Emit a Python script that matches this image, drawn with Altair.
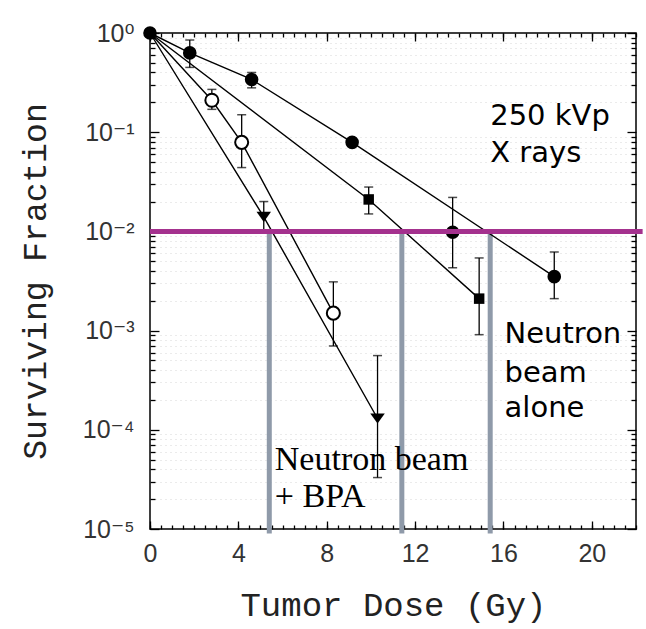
import altair as alt
import pandas as pd

# ---------------- data ----------------
# 250 kVp X rays (filled circles)
xr_dose = [0.0, 1.8, 4.6, 9.15, 13.7, 18.3]
xr_sf = [1.0, 0.63, 0.34, 0.079, 0.0098, 0.0035]
xr_lo = [None, 0.45, 0.28, None, 0.0043, 0.0021]
xr_hi = [None, 0.85, 0.40, None, 0.022, 0.0062]
xr_line_dose = [0.0, 1.8, 4.6, 9.15, 18.3]
xr_line_sf = [1.0, 0.63, 0.34, 0.079, 0.0035]

# Neutron beam alone (filled squares)
na_dose = [9.9, 14.9]
na_sf = [0.021, 0.0021]
na_lo = [0.015, 0.00091]
na_hi = [0.028, 0.0054]
na_line_dose = [0.0, 9.9, 14.9]
na_line_sf = [1.0, 0.021, 0.0021]

# Open circles
oc_dose = [2.8, 4.15, 8.3]
oc_sf = [0.21, 0.079, 0.0015]
oc_lo = [0.17, 0.044, 0.0007]
oc_hi = [0.27, 0.15, 0.0031]
oc_line_dose = [0.0, 2.8, 4.15, 8.3]
oc_line_sf = [1.0, 0.21, 0.079, 0.0015]

# Neutron beam + BPA (filled down triangles)
bpa_dose = [5.15, 10.3]
bpa_sf = [0.014, 0.00013]
bpa_lo = [0.0098, 0.000033]
bpa_hi = [0.020, 0.00056]
bpa_line_dose = [0.0, 5.15, 10.3]
bpa_line_sf = [1.0, 0.014, 0.00013]

# reference level and dose markers
level_sf = [0.01]
level_x1 = [0.0]
level_x2 = [22.3]
mark_dose = [5.4, 11.4, 15.4]
mark_top = [0.01, 0.01, 0.01]
mark_bottom = [9.0e-6, 9.0e-6, 9.0e-6]

# annotations
sans_text = ["250 kVp", "X rays", "Neutron", "beam", "alone"]
sans_x = [15.4, 15.4, 16.05, 16.05, 16.05]
sans_y = [0.118, 0.050, 7.5e-4, 3.0e-4, 1.35e-4]
serif_text = ["Neutron beam", "+ BPA"]
serif_x = [5.65, 5.65]
serif_y = [3.9e-5, 1.67e-5]

# axes
x_major = [0, 4, 8, 12, 16, 20]
x_minor = [i * 0.5 for i in range(0, 45)]
y_major = [1.0, 0.1, 0.01, 0.001, 0.0001, 0.00001]
y_minor = [m * 10.0 ** e for e in range(-5, 0) for m in range(2, 10)]

# ---------------- build tables ----------------
def pts(d, s, lo, hi):
    return pd.DataFrame({"dose": d, "sf": s, "lo": lo, "hi": hi})

def line(d, s):
    return pd.DataFrame({"dose": d, "sf": s, "order": list(range(len(d)))})

xr_p = pts(xr_dose, xr_sf, xr_lo, xr_hi)
na_p = pts(na_dose, na_sf, na_lo, na_hi)
oc_p = pts(oc_dose, oc_sf, oc_lo, oc_hi)
bpa_p = pts(bpa_dose, bpa_sf, bpa_lo, bpa_hi)
all_p = pd.concat([xr_p, na_p, oc_p, bpa_p]).dropna()

xs = alt.Scale(domain=[0, 22], nice=False, zero=False)
ys = alt.Scale(type="log", domain=[1e-5, 1], nice=False)

def X(f="dose"):
    return alt.X(f"{f}:Q", scale=xs, axis=None)

def Y(f="sf"):
    return alt.Y(f"{f}:Q", scale=ys, axis=None)

anchor = pd.DataFrame({"dose": [0.0], "sf": [1.0]})

def axis_layer(xaxis=None, yaxis=None):
    return alt.Chart(anchor).mark_point(opacity=0).encode(
        x=alt.X("dose:Q", scale=xs, axis=xaxis),
        y=alt.Y("sf:Q", scale=ys, axis=yaxis),
    )

def tick_axis(orient, values, size):
    return alt.Axis(orient=orient, values=values, ticks=True, tickSize=size,
                    tickColor="black", tickWidth=1.3, offset=-size,
                    domain=False, labels=False, grid=False, title="")

label_font = "Liberation Sans, DejaVu Sans"

x_label_axis = alt.Axis(
    orient="bottom", values=x_major, format="d", labelFont=label_font,
    labelFontSize=25, labelColor="#333333", labelPadding=12, labelFlush=False,
    labelOverlap=False, ticks=False, tickSize=0, domain=False, grid=False,
    title="Tumor Dose (Gy)", titleFont="Liberation Mono", titleFontSize=34,
    titleFontWeight="normal", titleColor="#222222", titleY=86,
    titleBaseline="alphabetic")

y_label_axis = alt.Axis(
    orient="left", values=y_major,
    labelExpr="'10' + ['⁰','⁻¹','⁻²','⁻³','⁻⁴','⁻⁵'][round(-log(datum.value)/LN10)]",
    labelFont=label_font, labelFontSize=25, labelColor="#333333",
    labelPadding=16, labelFlush=False, labelOverlap=False, ticks=False,
    tickSize=0, domain=False, grid=False,
    title="Surviving Fraction", titleFont="Liberation Mono", titleFontSize=33,
    titleFontWeight="normal", titleColor="#222222", titleX=-105, titleY=248,
    titleAngle=270, titleAlign="center", titleBaseline="alphabetic")

y_grid_axis = alt.Axis(orient="left", values=y_minor, grid=True,
                       gridColor="#8a8a8a", gridOpacity=0.35, gridWidth=1,
                       gridDash=[1, 4], ticks=False, labels=False,
                       domain=False, title="")

layers = [
    axis_layer(yaxis=y_grid_axis),
    axis_layer(xaxis=x_label_axis),
    axis_layer(yaxis=y_label_axis),
    axis_layer(xaxis=tick_axis("bottom", x_minor, 4)),
    axis_layer(xaxis=tick_axis("bottom", x_major, 8)),
    axis_layer(xaxis=tick_axis("top", x_minor, 4)),
    axis_layer(xaxis=tick_axis("top", x_major, 8)),
    axis_layer(yaxis=tick_axis("left", y_minor, 5)),
    axis_layer(yaxis=tick_axis("left", y_major, 9)),
    axis_layer(yaxis=tick_axis("right", y_minor, 5)),
    axis_layer(yaxis=tick_axis("right", y_major, 9)),
]

# gray vertical dose markers
marks_df = pd.DataFrame({"dose": mark_dose, "top": mark_top, "bottom": mark_bottom})
layers.append(alt.Chart(marks_df).mark_rule(color="#8f9aa9", strokeWidth=5).encode(
    x=X(), y=Y("top"), y2="bottom:Q"))

# survival curves
for d, s in [(xr_line_dose, xr_line_sf), (na_line_dose, na_line_sf),
             (oc_line_dose, oc_line_sf), (bpa_line_dose, bpa_line_sf)]:
    layers.append(alt.Chart(line(d, s)).mark_line(color="black", strokeWidth=1.4).encode(
        x=X(), y=Y(), order="order:Q"))

# error bars with caps
layers.append(alt.Chart(all_p).mark_rule(color="black", strokeWidth=1.3).encode(
    x=X(), y=Y("lo"), y2="hi:Q"))
layers.append(alt.Chart(all_p).mark_tick(color="black", orient="horizontal", size=9,
                                         thickness=1.5).encode(x=X(), y=Y("lo")))
layers.append(alt.Chart(all_p).mark_tick(color="black", orient="horizontal", size=9,
                                         thickness=1.5).encode(x=X(), y=Y("hi")))

# markers
layers.append(alt.Chart(oc_p).mark_point(shape="circle", size=170, filled=True,
                                         fill="white", stroke="black", strokeWidth=2,
                                         opacity=1).encode(x=X(), y=Y()))
layers.append(alt.Chart(xr_p).mark_point(shape="circle", size=185, filled=True,
                                         color="black", opacity=1).encode(x=X(), y=Y()))
layers.append(alt.Chart(na_p).mark_point(shape="square", size=110, filled=True,
                                         color="black", opacity=1).encode(x=X(), y=Y()))
layers.append(alt.Chart(bpa_p).mark_point(shape="M-1,-0.7L1,-0.7L0,0.7Z", size=210,
                                          filled=True, color="black",
                                          opacity=1).encode(x=X(), y=Y()))

# purple 1% level line
level_df = pd.DataFrame({"x1": level_x1, "x2": level_x2, "sf": level_sf})
layers.append(alt.Chart(level_df).mark_rule(color="#a4318e", strokeWidth=5).encode(
    x=alt.X("x1:Q", scale=xs, axis=None), x2="x2:Q", y=Y()))

# annotations
sans_df = pd.DataFrame({"t": sans_text, "dose": sans_x, "sf": sans_y})
serif_df = pd.DataFrame({"t": serif_text, "dose": serif_x, "sf": serif_y})
layers.append(alt.Chart(sans_df).mark_text(font="DejaVu Sans", fontSize=29,
                                           align="left", baseline="alphabetic",
                                           color="black").encode(
    x=X(), y=Y(), text="t:N"))
layers.append(alt.Chart(serif_df).mark_text(font="Liberation Serif", fontSize=34,
                                            align="left", baseline="alphabetic",
                                            color="black").encode(
    x=X(), y=Y(), text="t:N"))

chart = alt.layer(*layers).resolve_axis(x="independent", y="independent").properties(
    width=486, height=496,
    autosize=alt.AutoSizeParams(type="none"),
    padding={"left": 150, "top": 33, "right": 10, "bottom": 100},
    background="white",
).configure_view(stroke="black", strokeWidth=1.5)

chart.save("out.html", embed_options={"renderer": "svg", "actions": False})
